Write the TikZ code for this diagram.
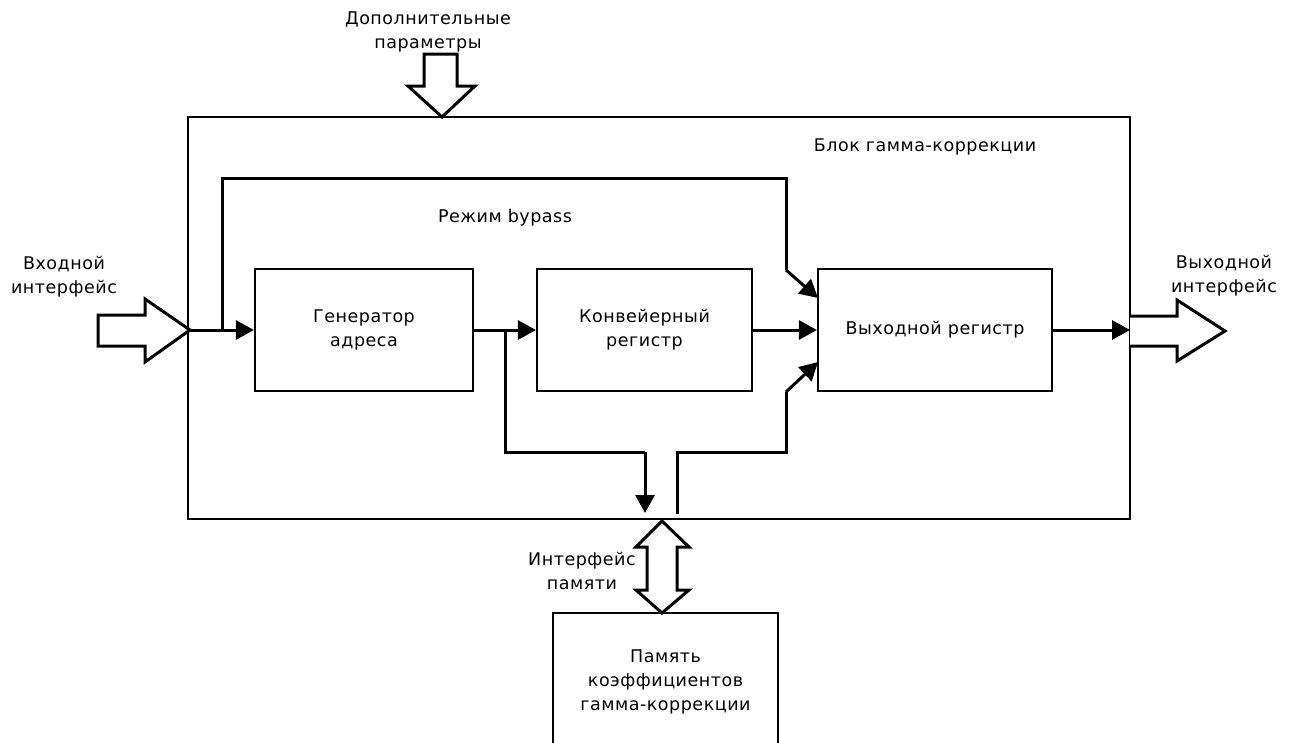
\documentclass[tikz,border=0pt]{standalone}
\usepackage{fontspec}
\setmainfont{DejaVu Sans}[LetterSpace=3]
\usetikzlibrary{arrows.meta}
\tikzset{
  box/.style={draw, line width=2.2pt, fill=white, inner sep=0pt},
  lbl/.style={font=\fontsize{17.5}{24}\selectfont, align=center, inner sep=0pt},
  wire/.style={line width=3pt},
  arr/.style={wire, -{Triangle[length=18pt,width=19pt]}},
  fatarrow/.style={line width=3pt, fill=white, line join=miter},
}
\begin{document}
\begin{tikzpicture}[x=1pt,y=-1pt]
\useasboundingbox (0,0) rectangle (1298,742);
% main block
\node[box, line width=2pt, minimum width=942pt, minimum height=402pt] (blk) at (659,318) {};
\node[lbl] (blktxt) at (925,147) {Блок гамма-коррекции};
\node[lbl] (bypass) at (505,218) {Режим bypass};
% inner boxes
\node[box, minimum width=218pt, minimum height=122pt] (gen) at (364,330) {};
\node[lbl] at (gen) {Генератор\\адреса};
\node[box, minimum width=215pt, minimum height=122pt] (conv) at (644.5,330) {};
\node[lbl] at (conv) {Конвейерный\\регистр};
\node[box, minimum width=234pt, minimum height=122pt] (outr) at (935,330) {};
\node[lbl] at (outr) {Выходной регистр};
% memory
\node[box, minimum width=225pt, minimum height=200pt] (mem) at (665.5,713) {};
\node[lbl] (memtxt) at (665.5,682) {Память\\коэффициентов\\гамма-коррекции};
% big arrows
\draw[fatarrow] (424,54) -- (457,54) -- (457,86) -- (475,86) -- (442,117) -- (408,86) -- (424,86) -- cycle;
\node[lbl] (params) at (428,32) {Дополнительные\\параметры};
\draw[fatarrow] (98,315) -- (145,315) -- (145,299) -- (190,330) -- (145,362) -- (145,346) -- (98,346) -- cycle;
\node[lbl] (intxt) at (64,277) {Входной\\интерфейс};
\draw[fatarrow] (1130,316) -- (1177,316) -- (1177,300) -- (1225,331) -- (1177,361) -- (1177,346) -- (1130,346);
\node[lbl] (outtxt) at (1224,276) {Выходной\\интерфейс};
\draw[fatarrow] (662,521) -- (689,547) -- (677,547) -- (677,590) -- (689,590) -- (662,613) -- (636,590) -- (647,590) -- (647,547) -- (636,547) -- cycle;
\node[lbl] (memif) at (582,571) {Интерфейс\\памяти};
% coordinates
\coordinate (in) at (190,330);
\coordinate (byp) at (222,330);
\coordinate (br) at (505,330);
\coordinate (ob) at (1130,330);
% connectors
\draw[arr] (in) -- (gen.west);
\draw[wire] (byp) |- (786,178) -- (786,270);
\draw[arr] (786,270) -- (818,298);
\draw[arr] (gen.east) -- (conv.west);
\draw[wire] (br) |- (645,452);
\draw[arr] (645,452) -- (645,513);
\draw[arr] (conv.east) -- (outr.west);
\draw[wire] (677,514) |- (786,452) -- (786,392);
\draw[arr] (786,392) -- (818,362);
\draw[arr] (outr.east) -- (ob);
\end{tikzpicture}
\end{document}
